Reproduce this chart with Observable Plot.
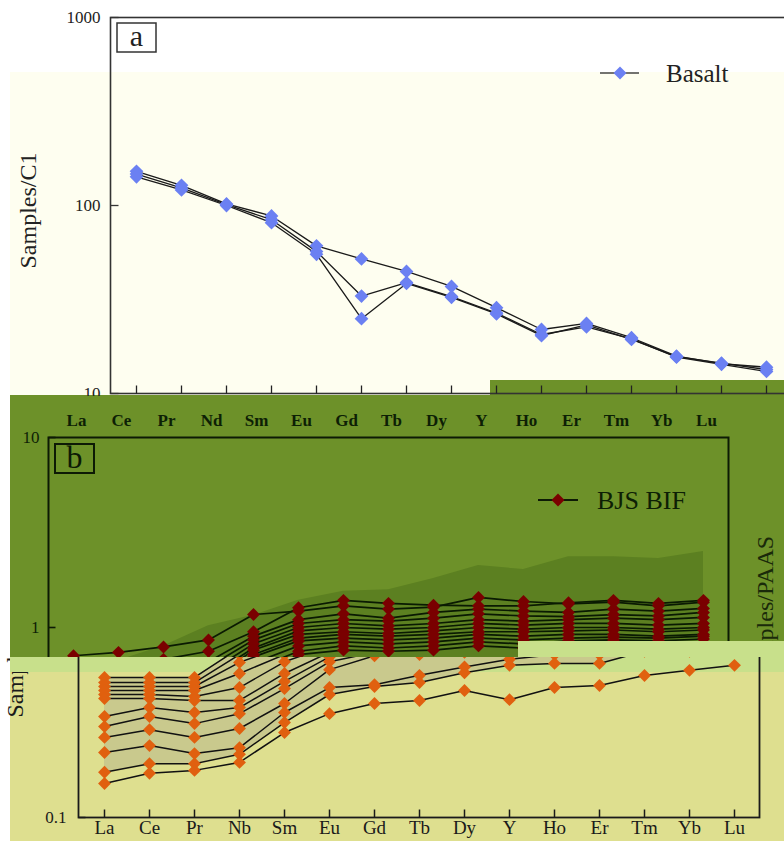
<!DOCTYPE html>
<html>
<head>
<meta charset="utf-8">
<script src="https://cdn.jsdelivr.net/npm/d3@7"></script>
<script src="https://cdn.jsdelivr.net/npm/@observablehq/plot@0.6"></script>
<style>
html,body{margin:0;padding:0;background:#fff;}
#wrap{position:relative;width:784px;height:841px;overflow:hidden;font-family:"Liberation Serif","Times New Roman",serif;}
.bg,.layer{position:absolute;}
.layer{left:0;width:784px;overflow:hidden;}
.layer svg{display:block;}
#overlay{position:absolute;left:0;top:0;pointer-events:none;}
</style>
</head>
<body>
<div id="wrap">
  <div class="bg" style="left:10px;top:72px;width:774px;height:308px;background:#fefef0"></div>
  <div class="bg" style="left:10px;top:380px;width:774px;height:277px;background:#6d9129"></div>
  <div class="bg" style="left:10px;top:657px;width:774px;height:15px;background:#c8e08b"></div>
  <div class="bg" style="left:10px;top:672px;width:774px;height:169px;background:#dedf8f"></div>
  <div class="layer" id="layerB" style="top:380px;height:277px"></div>
  <div class="bg" style="left:518px;top:641px;width:266px;height:16px;background:#c8e08b"></div>
  <div class="layer" id="layerC" style="top:657px;height:184px"></div>
  <div class="bg" style="left:10px;top:657px;width:52px;height:15px;background:#c8e08b"></div>
  <div class="bg" style="left:10px;top:380px;width:480px;height:15px;background:#fefef0"></div>
  <div class="layer" id="layerA" style="top:0;height:396px"></div>
  <svg id="overlay" width="784" height="841" font-family="'Liberation Serif','Times New Roman',serif">
    <rect x="117" y="23" width="39" height="29" fill="none" stroke="#333" stroke-width="1.5"/>
    <text x="136.5" y="46" font-size="30" text-anchor="middle" fill="#222">a</text>
    <line x1="600" y1="73" x2="639" y2="73" stroke="#444" stroke-width="1.6"/>
    <path d="M620,66.5L626.5,73L620,79.5L613.5,73Z" fill="#6b80f2"/>
    <text x="666" y="82" font-size="25" fill="#222">Basalt</text>
    <rect x="55" y="444" width="39" height="29" fill="none" stroke="#0d1a05" stroke-width="2"/>
    <text x="74.5" y="468" font-size="32" text-anchor="middle" fill="#0d1a05">b</text>
    <line x1="538" y1="500" x2="578" y2="500" stroke="#0d1a05" stroke-width="2"/>
    <path d="M558,493.5L564.5,500L558,506.5L551.5,500Z" fill="#7a0000"/>
    <text x="597" y="509" font-size="26" fill="#0d1f05">BJS BIF</text>
  </svg>
</div>
<script>
// ---------- data ----------
const elementsA = ["La","Ce","Pr","Nd","Sm","Eu","Gd","Tb","Dy","Y","Ho","Er","Tm","Yb","Lu"];
const elementsB = ["La","Ce","Pr","Nd","Sm","Eu","Gd","Tb","Dy","Y","Ho","Er","Tm","Yb","Lu"];
const elementsC = ["La","Ce","Pr","Nb","Sm","Eu","Gd","Tb","Dy","Y","Ho","Er","Tm","Yb","Lu"];

const ticksA = [10, 100, 1000];
const ticksB = [1, 10];
const ticksC = [0.1];

// Panel a: Basalt / C1
const basalt = [
  [152, 128, 102, 88, 61, 52, 44.6, 37.1, 28.6, 21.9, 23.6, 19.8, 15.8, 14.4, 13.8],
  [147, 124, 101, 84, 57, 33, 38.9, 32.8, 26.8, 20.6, 22.6, 19.5, 15.6, 14.3, 13.1],
  [142, 121, 100, 81, 55, 25, 38.5, 32.5, 26.5, 20.3, 23.2, 19.4, 15.7, 14.5, 13.4]
];

// Panel b: BJS BIF / PAAS
const bjsBif = [
  [0.71,0.74,0.79,0.86,1.17,1.22,1.30,1.25,1.28,1.44,1.37,1.33,1.36,1.30,1.36],
  [0.62,0.64,0.68,0.75,0.95,1.27,1.39,1.34,1.31,1.30,1.30,1.35,1.39,1.34,1.39],
  [0.55,0.57,0.60,0.66,0.90,1.10,1.18,1.12,1.20,1.25,1.22,1.20,1.25,1.22,1.26],
  [0.50,0.52,0.56,0.62,0.86,1.05,1.10,1.08,1.12,1.18,1.15,1.14,1.17,1.15,1.20],
  [0.45,0.48,0.52,0.58,0.82,1.00,1.05,1.02,1.05,1.10,1.08,1.10,1.12,1.10,1.13],
  [0.42,0.45,0.48,0.55,0.78,0.96,1.00,0.98,1.00,1.05,1.03,1.05,1.05,1.03,1.05],
  [0.40,0.42,0.45,0.52,0.76,0.92,0.95,0.93,0.96,1.00,0.98,1.00,1.00,0.98,1.00],
  [0.37,0.39,0.42,0.48,0.72,0.88,0.92,0.90,0.92,0.95,0.95,0.96,0.97,0.95,0.97],
  [0.35,0.37,0.40,0.45,0.70,0.85,0.88,0.86,0.88,0.92,0.90,0.92,0.92,0.90,0.92],
  [0.32,0.34,0.37,0.42,0.65,0.80,0.84,0.82,0.84,0.88,0.86,0.88,0.89,0.88,0.90],
  [0.30,0.32,0.35,0.40,0.60,0.75,0.80,0.78,0.80,0.84,0.82,0.85,0.86,0.85,0.87],
  [0.28,0.30,0.33,0.38,0.55,0.72,0.76,0.75,0.76,0.80,0.78,0.80,0.82,0.80,0.82]
];
const envBHigh = [0.63,0.67,0.80,1.02,1.16,1.39,1.55,1.58,1.81,2.12,2.02,2.36,2.36,2.31,2.51];
const envBLow  = [0.25,0.26,0.28,0.30,0.35,0.40,0.42,0.42,0.44,0.45,0.45,0.46,0.47,0.47,0.48];

// Panel c: samples / PAAS
const samplesC = [
  [0.546,0.546,0.546,0.78,0.95,1.05,1.10,1.10,1.15,1.20,1.15,1.15,1.20,1.20,1.25],
  [0.513,0.513,0.513,0.72,0.88,0.98,1.02,1.00,1.05,1.10,1.08,1.08,1.10,1.12,1.15],
  [0.489,0.489,0.489,0.655,0.80,0.92,0.95,0.95,0.98,1.02,1.00,1.00,1.02,1.05,1.08],
  [0.466,0.466,0.466,0.573,0.72,0.86,0.90,0.90,0.92,0.95,0.95,0.95,0.97,1.00,1.02],
  [0.444,0.444,0.433,0.483,0.66,0.80,0.85,0.85,0.88,0.90,0.90,0.90,0.92,0.95,0.96],
  [0.423,0.423,0.413,0.413,0.573,0.74,0.80,0.80,0.83,0.85,0.85,0.86,0.88,0.90,0.92],
  [0.340,0.379,0.357,0.379,0.52,0.70,0.77,0.77,0.80,0.82,0.82,0.83,0.85,0.87,0.88],
  [0.301,0.340,0.312,0.352,0.477,0.66,0.74,0.74,0.77,0.78,0.79,0.80,0.82,0.83,0.85],
  [0.264,0.290,0.264,0.294,0.398,0.60,0.71,0.72,0.74,0.75,0.76,0.77,0.80,0.80,0.82],
  [0.220,0.239,0.217,0.233,0.357,0.483,0.50,0.56,0.62,0.68,0.72,0.72,0.78,0.80,0.80],
  [0.173,0.192,0.192,0.215,0.316,0.444,0.489,0.513,0.578,0.632,0.647,0.647,0.75,0.75,0.76],
  [0.151,0.171,0.177,0.195,0.280,0.352,0.398,0.413,0.466,0.417,0.483,0.495,0.559,0.595,0.632]
];
const envCLow  = [0.173,0.192,0.192,0.215,0.316,0.444,0.489,0.513,0.578,0.632,0.647,0.647,0.75,0.75,0.76];
const envCHigh = [0.546,0.546,0.546,0.78,0.95,1.05,1.10,1.10,1.15,1.20,1.15,1.15,1.20,1.20,1.25];

// ---------- helpers ----------
const toRows = (series, elems) => series.flatMap((vals, s) => vals.map((v, i) => ({s, el: elems[i], v})));
const envRows = (lo, hi, elems) => elems.map((el, i) => ({el, lo: lo[i], hi: hi[i]}));
const tickRight = {draw(ctx, size){ const r = Math.sqrt(size/Math.PI); ctx.moveTo(0,0); ctx.lineTo(r,0); }};
const tickUp = {draw(ctx, size){ const r = Math.sqrt(size/Math.PI); ctx.moveTo(0,0); ctx.lineTo(0,-r); }};
const font = "'Liberation Serif','Times New Roman',serif";

// ---------- panel a ----------
const rowsA = toRows(basalt, elementsA);
const plotA = Plot.plot({
  width: 800, height: 400,
  marginLeft: 110, marginTop: 17, marginRight: 0, marginBottom: 7,
  x: {type: "point", domain: elementsA, range: [133, 769], padding: 0, axis: null},
  y: {type: "log", domain: [10, 1000], range: [393, 17], axis: null},
  style: {background: "none", fontFamily: font, maxWidth: "none", overflow: "visible"},
  marks: [
    Plot.frame({stroke: "#333", strokeWidth: 1.6}),
    Plot.dot(ticksA, {y: d => d, frameAnchor: "left", symbol: tickRight, r: 8, fill: "none", stroke: "#333", strokeWidth: 1.3}),
    Plot.text(ticksA, {y: d => d, text: d => String(d), frameAnchor: "left", dx: -10, textAnchor: "end", fontSize: 17, fill: "#222"}),
    Plot.dot(elementsA, {x: d => d, frameAnchor: "bottom", symbol: tickUp, r: 8, fill: "none", stroke: "#222", strokeWidth: 1.3}),
    Plot.line(rowsA, {x: "el", y: "v", z: "s", stroke: "#1a1a1a", strokeWidth: 1.3}),
    Plot.dot(rowsA, {x: "el", y: "v", symbol: "diamond2", r: 6.2, fill: "#6b80f2", stroke: "none"}),
    Plot.text(["Samples/C1"], {text: d => d, frameAnchor: "left", textAnchor: "middle", rotate: -90, dx: -82, dy: 5, fontSize: 24, fill: "#222"})
  ]
});
document.getElementById("layerA").appendChild(plotA);

// ---------- panel b ----------
const rowsB = toRows(bjsBif, elementsB);
const plotB = Plot.plot({
  width: 784, height: 460,
  marginLeft: 48, marginTop: 57, marginRight: 56, marginBottom: 23,
  x: {type: "point", domain: elementsB, range: [69, 706], padding: 0, axis: null},
  y: {type: "log", domain: [0.1, 10], range: [437, 57], axis: null},
  style: {background: "none", fontFamily: font, maxWidth: "none"},
  marks: [
    Plot.areaY(envRows(envBLow, envBHigh, elementsB), {x: "el", y1: "lo", y2: "hi", fill: "#5c8021"}),
    Plot.frame({stroke: "#0d1a05", strokeWidth: 2}),
    Plot.dot(ticksB, {y: d => d, frameAnchor: "left", symbol: tickRight, r: 7, fill: "none", stroke: "#0d1a05", strokeWidth: 1.6}),
    Plot.text(ticksB, {y: d => d, text: d => String(d), frameAnchor: "left", dx: -9, textAnchor: "end", fontSize: 17, fill: "#0d1f05"}),
    Plot.text(elementsB, {x: d => d, text: d => d, frameAnchor: "top", dx: 3, dy: -24, fontSize: 17, fontWeight: "bold", fill: "#0d1f05"}),
    Plot.line(rowsB, {x: "el", y: "v", z: "s", stroke: "#0a1a02", strokeWidth: 1.7}),
    Plot.dot(rowsB, {x: "el", y: "v", symbol: "diamond2", r: 5.8, fill: "#7a0000", stroke: "none"}),
    Plot.text(["Samples/PAAS"], {text: d => d, frameAnchor: "right", textAnchor: "middle", rotate: -90, dx: 37, dy: -18, fontSize: 24, fill: "#1a2a0a"})
  ]
});
document.getElementById("layerB").appendChild(plotB);

// ---------- panel c ----------
const rowsC = toRows(samplesC, elementsC);
const plotC = Plot.plot({
  width: 784, height: 384,
  marginLeft: 78, marginTop: 10, marginRight: 25, marginBottom: 24,
  x: {type: "point", domain: elementsC, range: [100, 737], padding: 0, axis: null},
  y: {type: "log", domain: [0.1, 10], range: [360, -20], axis: null},
  style: {background: "none", fontFamily: font, maxWidth: "none", marginTop: "-200px"},
  marks: [
    Plot.areaY(envRows(envCLow, envCHigh, elementsC), {x: "el", y1: "lo", y2: "hi", fill: "#c9c98d"}),
    Plot.frame({stroke: "#1a1a1a", strokeWidth: 1.8}),
    Plot.dot(ticksC, {y: d => d, frameAnchor: "left", symbol: tickRight, r: 7, fill: "none", stroke: "#1a1a1a", strokeWidth: 1.5}),
    Plot.text(ticksC, {y: d => d, text: d => String(d), frameAnchor: "left", dx: -12, textAnchor: "end", fontSize: 17, fill: "#1a1a1a"}),
    Plot.dot(elementsC, {x: d => d, frameAnchor: "bottom", symbol: tickUp, r: 8, fill: "none", stroke: "#1a1a1a", strokeWidth: 1.5}),
    Plot.text(elementsC, {x: d => d, text: d => d, frameAnchor: "bottom", dy: 16, fontSize: 19, fill: "#1a1a1a"}),
    Plot.line(rowsC, {x: "el", y: "v", z: "s", stroke: "#111", strokeWidth: 1.5}),
    Plot.dot(rowsC, {x: "el", y: "v", symbol: "diamond2", r: 5.8, fill: "#e0600f", stroke: "none"}),
    Plot.text(["Samples/PAAS"], {text: d => d, frameAnchor: "left", rotate: -90, dx: -63, dy: 75, textAnchor: "start", fontSize: 24, fill: "#1a1a1a"})
  ]
});
document.getElementById("layerC").appendChild(plotC);
</script>
</body>
</html>
